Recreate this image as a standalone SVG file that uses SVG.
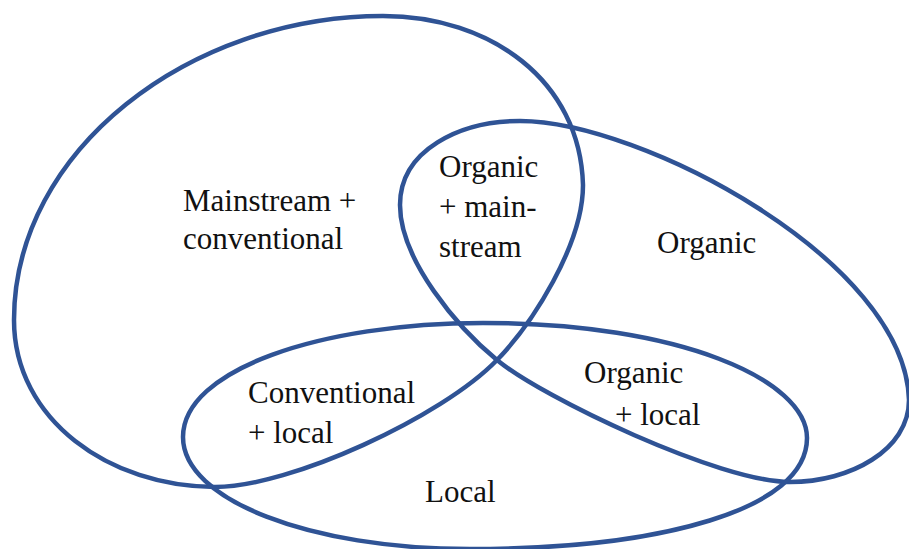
<svg xmlns="http://www.w3.org/2000/svg" width="909" height="549" viewBox="0 0 909 549">
<style>
.set{fill:none;stroke:#2F5395;stroke-width:4.5;stroke-linejoin:round}
</style>
<rect width="909" height="549" fill="#fff"/>
<g id="connectors"></g>
<g id="mainstream">
<path class="set" d="M383,16 C490,16 580,80 583,185 C583,245 532,324 497,360 C442,417 290,487 215,487 C110,487 14,420 14,320 C14,150 190,16 383,16 Z"/>
</g>
<g id="organic">
<path class="set" d="M400,205 C400,150 460,121 520,121 C640,121 905,260 909,400 C909,450 850,482 790,482 C720,482 543,398 497,360 C458,328 400,260 400,205 Z"/>
</g>
<g id="local">
<path class="set" d="M483,323 C680,323 807,380 807,438 C807,510 660,549 470,549 C310,549 183,500 183,437 C183,370 320,323 483,323 Z"/>
</g>
<g id="label-mainstream-conventional">
<text x="183" y="211" style="font-family:'Liberation Serif',serif;font-size:31px;fill:#111">Mainstream +</text>
<text x="183" y="249" style="font-family:'Liberation Serif',serif;font-size:31px;fill:#111">conventional</text>
</g>
<g id="label-organic-mainstream">
<text x="439" y="177" style="font-family:'Liberation Serif',serif;font-size:31px;fill:#111">Organic</text>
<text x="439" y="217" style="font-family:'Liberation Serif',serif;font-size:31px;fill:#111">+ main-</text>
<text x="439" y="257" style="font-family:'Liberation Serif',serif;font-size:31px;fill:#111">stream</text>
</g>
<g id="label-organic">
<text x="657" y="253" style="font-family:'Liberation Serif',serif;font-size:31px;fill:#111">Organic</text>
</g>
<g id="label-conventional-local">
<text x="248" y="403" style="font-family:'Liberation Serif',serif;font-size:31px;fill:#111">Conventional</text>
<text x="248" y="443" style="font-family:'Liberation Serif',serif;font-size:31px;fill:#111">+ local</text>
</g>
<g id="label-organic-local">
<text x="584" y="383" style="font-family:'Liberation Serif',serif;font-size:31px;fill:#111">Organic</text>
<text x="615" y="425" style="font-family:'Liberation Serif',serif;font-size:31px;fill:#111">+ local</text>
</g>
<g id="label-local">
<text x="425" y="502" style="font-family:'Liberation Serif',serif;font-size:31px;fill:#111">Local</text>
</g>
</svg>
